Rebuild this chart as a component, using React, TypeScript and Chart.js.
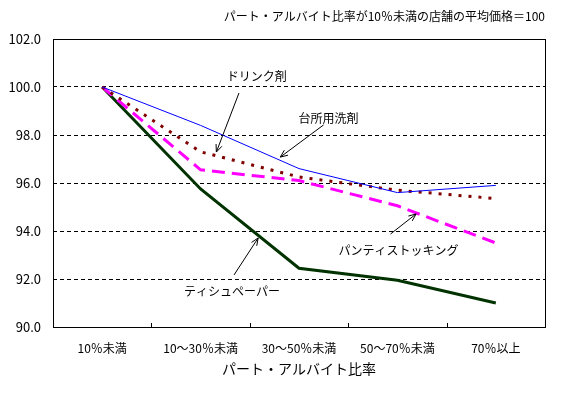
import React, { useEffect, useRef } from "react";
import { Chart, registerables } from "chart.js";

Chart.register(...registerables);

const categories = ["10％未満", "10～30％未満", "30～50％未満", "50～70％未満", "70％以上"];
const kitchenDetergent = [100, 98.4, 96.6, 95.6, 95.9];
const drinkTonic = [100, 97.3, 96.25, 95.7, 95.35];
const pantyhose = [100, 96.55, 96.1, 95.05, 93.5];
const tissuePaper = [100, 95.75, 92.45, 91.95, 91.0];
const yTicks = [90, 92, 94, 96, 98, 100, 102];

const topNote = "パート・アルバイト比率が10％未満の店舗の平均価格＝100";
const xTitle = "パート・アルバイト比率";

// annotation labels: text anchor and arrow (from -> to) in data coordinates (category index, value)
const annotations = [
  { text: "ドリンク剤", tx: 1.57, ty: 100.42, ax: 1.39, ay: 99.75, bx: 1.16, by: 97.29 },
  { text: "台所用洗剤", tx: 2.3, ty: 98.71, ax: 2.25, ay: 98.42, bx: 1.81, by: 97.08 },
  { text: "パンティストッキング", tx: 3.01, ty: 93.17, ax: 2.93, ay: 93.875, bx: 3.19, by: 94.71 },
  { text: "ティシュペーパー", tx: 1.32, ty: 91.5, ax: 1.34, ay: 92.17, bx: 1.585, by: 93.71 },
];

const JP = '"Noto Sans CJK JP", "Noto Sans", sans-serif';

export default function App() {
  const ref = useRef<HTMLCanvasElement | null>(null);

  useEffect(() => {
    document.body.style.margin = "0";
    const canvas = ref.current;
    if (!canvas) return;

    const decor = {
      id: "decor",
      afterDraw(chart: any) {
        const ctx = chart.ctx;
        const { left, right, top, bottom } = chart.chartArea;
        const xs = chart.scales.x;
        const ys = chart.scales.y;
        ctx.save();
        // border
        ctx.strokeStyle = "#000";
        ctx.lineWidth = 1;
        ctx.setLineDash([]);
        ctx.strokeRect(Math.round(left) + 0.5, Math.round(top) + 0.5, Math.round(right - left), Math.round(bottom - top));
        // inner tick marks at category boundaries
        for (let i = 0; i < categories.length - 1; i++) {
          const px = Math.round((xs.getPixelForValue(i) + xs.getPixelForValue(i + 1)) / 2) + 0.5;
          ctx.beginPath();
          ctx.moveTo(px, bottom);
          ctx.lineTo(px, bottom - 4);
          ctx.stroke();
        }
        // annotations
        const toPx = (ix: number) => {
          const p0 = xs.getPixelForValue(0);
          const p1 = xs.getPixelForValue(1);
          return p0 + ix * (p1 - p0);
        };
        ctx.font = `12px ${JP}`;
        ctx.fillStyle = "#000";
        ctx.textAlign = "center";
        ctx.textBaseline = "middle";
        annotations.forEach((a) => {
          ctx.fillText(a.text, toPx(a.tx), ys.getPixelForValue(a.ty));
          const x1 = toPx(a.ax), y1 = ys.getPixelForValue(a.ay);
          const x2 = toPx(a.bx), y2 = ys.getPixelForValue(a.by);
          ctx.beginPath();
          ctx.moveTo(x1, y1);
          ctx.lineTo(x2, y2);
          const ang = Math.atan2(y2 - y1, x2 - x1);
          const hl = 8, ha = 0.4;
          ctx.moveTo(x2 - hl * Math.cos(ang - ha), y2 - hl * Math.sin(ang - ha));
          ctx.lineTo(x2, y2);
          ctx.lineTo(x2 - hl * Math.cos(ang + ha), y2 - hl * Math.sin(ang + ha));
          ctx.stroke();
        });
        // top note
        ctx.textAlign = "right";
        ctx.fillText(topNote, right, 16);
        // x axis title
        ctx.textAlign = "center";
        ctx.font = `14px ${JP}`;
        ctx.fillText(xTitle, (left + right) / 2, 369);
        ctx.restore();
      },
    };

    const chart = new Chart(canvas, {
      type: "line",
      data: {
        labels: categories,
        datasets: [
          { label: "台所用洗剤", data: kitchenDetergent, borderColor: "#0000ff", borderWidth: 1 },
          { label: "ドリンク剤", data: drinkTonic, borderColor: "#800000", borderWidth: 3, borderDash: [3, 7] },
          { label: "パンティストッキング", data: pantyhose, borderColor: "#ff00ff", borderWidth: 3, borderDash: [13, 7] },
          { label: "ティシュペーパー", data: tissuePaper, borderColor: "#003300", borderWidth: 3 },
        ],
      },
      options: {
        responsive: false,
        animation: false,
        layout: { padding: { left: 0, right: 28, top: 39, bottom: 0 } },
        elements: { point: { radius: 0, hoverRadius: 0 }, line: { tension: 0, fill: false } },
        plugins: { legend: { display: false }, tooltip: { enabled: false }, title: { display: false } },
        scales: {
          x: {
            type: "category",
            offset: true,
            grid: { display: false, drawTicks: false },
            border: { display: false },
            ticks: { color: "#000", font: { family: JP, size: 12 }, padding: 14, maxRotation: 0, autoSkip: false },
            afterFit: (s: any) => { s.height = 67; },
          },
          y: {
            min: 90,
            max: 102,
            afterBuildTicks: (s: any) => { s.ticks = yTicks.map((v) => ({ value: v })); },
            grid: {
              drawTicks: false,
              color: (c: any) => (c.tick && (c.tick.value === 90 || c.tick.value === 102) ? "rgba(0,0,0,0)" : "#000"),
              lineWidth: 1,
            },
            border: { display: false, dash: [4, 3] },
            ticks: { color: "#000", font: { family: JP, size: 13 }, padding: 12, callback: (v: any) => Number(v).toFixed(1) },
            afterFit: (s: any) => { s.width = 53; },
          },
        },
      },
      plugins: [decor],
    } as any);

    return () => chart.destroy();
  }, []);

  return (
    <div style={{ position: "absolute", left: 0, top: 0, width: 573, height: 394 }}>
      <canvas ref={ref} width={573} height={394} style={{ width: 573, height: 394 }} />
    </div>
  );
}
